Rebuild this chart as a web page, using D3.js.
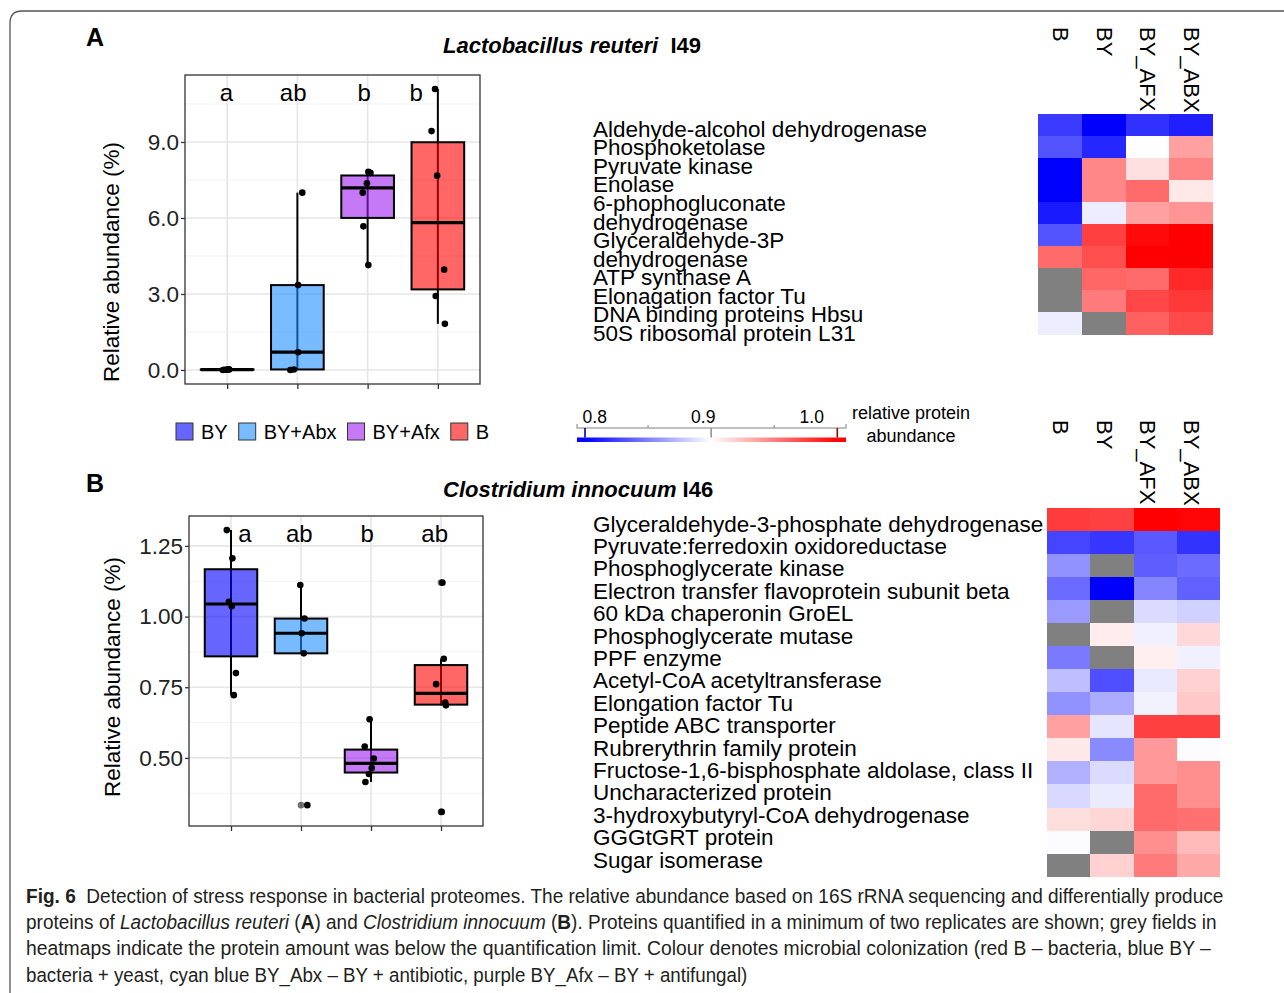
<!DOCTYPE html>
<html>
<head>
<meta charset="utf-8">
<script src="https://cdn.jsdelivr.net/npm/d3@7/dist/d3.min.js"></script>
<style>
body { margin:0; background:#fff; }
text { font-family:"Liberation Sans", Arial, sans-serif; }
</style>
</head>
<body>
<svg id="fig" width="1284" height="993"></svg>
<script>
var groups = ["BY","BY+Abx","BY+Afx","B"];
var groupFill = ["#0000ff","#1e90ff","#a020f0","#ff0000"];

/* panel A: Lactobacillus reuteri I49, relative abundance (%) */
var reuteriBY  = [0.00, 0.01, 0.02, 0.03, 0.01, 0.02];
var reuteriAbx = [0.00, 0.02, 0.70, 3.35, 7.00];
var reuteriAfx = [4.14, 5.67, 7.00, 7.37, 7.78, 7.82];
var reuteriB   = [1.82, 2.92, 3.96, 7.67, 9.43, 11.09];
var reuteriTicks = [0, 3, 6, 9];
var reuteriLetters = ["a","ab","b","b"];
// letter positions in category units (like annotate() in R)
var reuteriLetterAt = [0.99, 1.94, 2.95, 3.69];
var reuteriLetterY = 10.97;
// horizontal jitter of each dot, in category units
var reuteriJitter = [[-0.06,-0.04,0.03,0.02,-0.01,0.01],
                     [-0.10,-0.05,0.01,0.01,0.07],
                     [0.01,-0.06,-0.07,-0.01,0.04,0.01],
                     [0.10,-0.03,0.09,-0.01,-0.09,-0.04]];

/* panel B: Clostridium innocuum I46, relative abundance (%) */
var innocuumBY  = [0.722, 0.800, 1.037, 1.052, 1.206, 1.306];
var innocuumAbx = [0.333, 0.870, 0.941, 0.993, 1.112];
var innocuumAfx = [0.415, 0.443, 0.464, 0.498, 0.540, 0.637];
var innocuumB   = [0.309, 0.686, 0.696, 0.761, 0.851, 1.120];
var innocuumTicks = [0.50, 0.75, 1.00, 1.25];
var innocuumLetters = ["a","ab","b","ab"];
var innocuumLetterAt = [1.20, 1.975, 2.945, 3.91];
var innocuumLetterY = 1.295;
var innocuumJitter = [[0.04,0.07,0.01,-0.03,0.02,-0.06],
                      [0.09,0.04,0.01,0.05,-0.01],
                      [-0.08,-0.03,0.01,0.04,-0.09,-0.02],
                      [0.01,0.07,0.06,-0.07,0.04,0.02]];

/* heatmaps: relative protein abundance, null = below quantification limit */
var heatCols = ["B","BY","BY_AFX","BY_ABX"];
var proteinsA = ["Aldehyde-alcohol dehydrogenase","Phosphoketolase","Pyruvate kinase","Enolase",
  "6-phophogluconate\ndehydrogenase","Glyceraldehyde-3P\ndehydrogenase","ATP synthase A",
  "Elonagation factor Tu","DNA binding proteins Hbsu","50S ribosomal protein L31"];
var heatA_B   = [0.823,0.833,0.800,0.800,0.810,0.833,0.958,null,null,0.893];
var heatA_BY  = [0.800,0.815,0.947,0.947,0.893,0.975,0.969,0.960,0.952,null];
var heatA_AFX = [0.819,0.900,0.912,0.958,0.937,0.996,1.000,0.958,0.972,0.962];
var heatA_ABX = [0.812,0.937,0.948,0.909,0.942,1.000,1.000,0.984,0.978,0.971];

var proteinsB = ["Glyceraldehyde-3-phosphate dehydrogenase","Pyruvate:ferredoxin oxidoreductase",
  "Phosphoglycerate kinase","Electron transfer flavoprotein subunit beta","60 kDa chaperonin GroEL",
  "Phosphoglycerate mutase","PPF enzyme","Acetyl-CoA acetyltransferase","Elongation factor Tu",
  "Peptide ABC transporter","Rubrerythrin family protein","Fructose-1,6-bisphosphate aldolase, class II",
  "Uncharacterized protein","3-hydroxybutyryl-CoA dehydrogenase","GGGtGRT protein","Sugar isomerase"];
var heatB_B   = [0.977,0.827,0.857,0.842,0.860,null,0.848,0.875,0.857,0.937,0.909,0.869,0.885,0.913,0.899,null];
var heatB_BY  = [0.975,0.821,null,0.800,null,0.907,null,0.831,0.867,0.890,0.854,0.886,0.892,0.916,null,0.918];
var heatB_AFX = [1.000,0.835,0.837,0.852,0.886,0.894,0.906,0.891,0.895,0.975,0.940,0.940,0.958,0.958,0.944,0.952];
var heatB_ABX = [0.998,0.820,0.842,0.838,0.882,0.915,0.894,0.918,0.921,0.975,0.899,0.944,0.944,0.956,0.927,0.934];

var colorbarTicks = [0.8, 0.9, 1.0];
var colorbarMinor = [0.85, 0.95];

var caption = [
  [["Fig. 6","b"],["  Detection of stress response in bacterial proteomes. The relative abundance based on 16S rRNA sequencing and differentially produce",""]],
  [["proteins of ",""],["Lactobacillus reuteri","i"],[" (",""],["A","b"],[") and ",""],["Clostridium innocuum","i"],[" (",""],["B","b"],["). Proteins quantified in a minimum of two replicates are shown; grey fields in",""]],
  [["heatmaps indicate the protein amount was below the quantification limit. Colour denotes microbial colonization (red B \u2013 bacteria, blue BY \u2013",""]],
  [["bacteria + yeast, cyan blue BY_Abx \u2013 BY + antibiotic, purple BY_Afx \u2013 BY + antifungal)",""]]
];

var svg = d3.select("#fig");

var heatColor = d3.scaleLinear()
    .domain([0.8, 0.9, 1.0])
    .range(["#0000ff","#ffffff","#ff0000"])
    .clamp(true);

//frame of the figure box
svg.append("path")
    .attr("d","M10,1010 V23 Q10,11 22,11 H1300")
    .attr("fill","none")
    .attr("stroke","#555")
    .attr("stroke-width",1.3);

/* ggplot style box statistics (type 7 quantiles, 1.5 IQR whiskers) */
var boxStats = function(vals)
{
    var s = vals.slice().sort(d3.ascending);
    var q1 = d3.quantile(s,0.25), med = d3.quantile(s,0.5), q3 = d3.quantile(s,0.75);
    var lim = 1.5*(q3-q1);
    var inside = s.filter(function(v){ return v>=q1-lim && v<=q3+lim; });
    return {q1:q1, med:med, q3:q3,
            lo:d3.min(inside), hi:d3.max(inside),
            out:s.filter(function(v){ return v<q1-lim || v>q3+lim; })};
}

/* draws one boxplot panel */
var drawBoxPanel = function(p)
{
    var b = p.box;
    var all = d3.merge(p.values);
    var ext = d3.extent(all);
    var pad = (ext[1]-ext[0])*0.05;
    var y = d3.scaleLinear().domain([ext[0]-pad, ext[1]+pad]).range([b.y1, b.y0]);
    var x = d3.scaleLinear().domain([0.4, groups.length+0.6]).range([b.x0, b.x1]);
    var g = svg.append("g");

    // minor grid halfway between the major ticks
    var step = p.ticks[1]-p.ticks[0];
    var minor = p.ticks.map(function(t){ return t+step/2; })
        .concat([p.ticks[0]-step/2])
        .filter(function(t){ return t>y.domain()[0] && t<y.domain()[1]; });

    g.selectAll(".minor").data(minor).enter().append("line")
        .attr("x1",b.x0).attr("x2",b.x1)
        .attr("y1",function(d){ return y(d); }).attr("y2",function(d){ return y(d); })
        .attr("stroke","#f2f2f2").attr("stroke-width",1);
    g.selectAll(".major").data(p.ticks).enter().append("line")
        .attr("x1",b.x0).attr("x2",b.x1)
        .attr("y1",function(d){ return y(d); }).attr("y2",function(d){ return y(d); })
        .attr("stroke","#e6e6e6").attr("stroke-width",1.6);
    g.selectAll(".vgrid").data(groups).enter().append("line")
        .attr("x1",function(d,i){ return x(i+1); }).attr("x2",function(d,i){ return x(i+1); })
        .attr("y1",b.y0).attr("y2",b.y1)
        .attr("stroke","#e6e6e6").attr("stroke-width",1.6);

    var stats = p.values.map(boxStats);
    var bw = x(1.375)-x(1);

    var boxes = g.selectAll(".box").data(stats).enter().append("g");
    boxes.append("line")
        .attr("x1",function(d,i){ return x(i+1); }).attr("x2",function(d,i){ return x(i+1); })
        .attr("y1",function(d){ return y(d.hi); }).attr("y2",function(d){ return y(d.lo); })
        .attr("stroke","#000").attr("stroke-width",2);
    boxes.append("rect")
        .attr("x",function(d,i){ return x(i+1)-bw; })
        .attr("width",bw*2)
        .attr("y",function(d){ return y(d.q3); })
        .attr("height",function(d){ return y(d.q1)-y(d.q3); })
        .attr("fill",function(d,i){ return groupFill[i]; })
        .attr("fill-opacity",0.6)
        .attr("stroke","#000").attr("stroke-width",2);
    boxes.append("line")
        .attr("x1",function(d,i){ return x(i+1)-bw; }).attr("x2",function(d,i){ return x(i+1)+bw; })
        .attr("y1",function(d){ return y(d.med); }).attr("y2",function(d){ return y(d.med); })
        .attr("stroke","#000").attr("stroke-width",3.2);

    // outliers from the boxplot itself
    stats.forEach(function(s,i)
    {
        g.selectAll(null).data(s.out).enter().append("circle")
            .attr("cx",x(i+1)).attr("cy",function(d){ return y(d); })
            .attr("r",3.3).attr("fill","#000").attr("fill-opacity",0.55);
    });

    // jittered dots
    p.values.forEach(function(vals,i)
    {
        g.selectAll(null).data(vals).enter().append("circle")
            .attr("cx",function(d,j){ return x(i+1+p.jitter[i][j]); })
            .attr("cy",function(d){ return y(d); })
            .attr("r",3.3).attr("fill","#000");
    });

    g.selectAll(".letter").data(p.letters).enter().append("text")
        .attr("x",function(d,i){ return x(p.letterAt[i]); })
        .attr("y",y(p.letterY))
        .attr("dy","0.36em")
        .attr("text-anchor","middle")
        .attr("font-size",24)
        .text(function(d){ return d; });

    g.append("rect")
        .attr("x",b.x0).attr("y",b.y0)
        .attr("width",b.x1-b.x0).attr("height",b.y1-b.y0)
        .attr("fill","none").attr("stroke","#333").attr("stroke-width",1.3);

    var yAxis = d3.axisLeft(y).tickValues(p.ticks).tickFormat(d3.format(p.fmt))
        .tickSize(4).tickPadding(2);
    var ya = g.append("g").attr("transform","translate("+b.x0+",0)").call(yAxis);
    ya.select(".domain").remove();
    ya.selectAll("text").attr("font-size",22.5).attr("fill","#222")
        .attr("font-family","Liberation Sans, Arial, sans-serif");
    ya.selectAll("line").attr("stroke","#333").attr("stroke-width",1.3);

    var xAxis = d3.axisBottom(x).tickValues(d3.range(1,groups.length+1)).tickFormat("").tickSize(5);
    var xa = g.append("g").attr("transform","translate(0,"+b.y1+")").call(xAxis);
    xa.select(".domain").remove();
    xa.selectAll("line").attr("stroke","#333").attr("stroke-width",1.3);

    g.append("text")
        .attr("transform","translate("+p.ytitleX+","+p.ytitleY+") rotate(-90)")
        .attr("text-anchor","middle")
        .attr("dy","0.36em")
        .attr("font-size",22.5)
        .text("Relative abundance (%)");

    g.append("text").attr("x",86).attr("y",p.labelY)
        .attr("font-size",25).attr("font-weight","bold").text(p.label);

    var t = g.append("text").attr("x",p.titleX).attr("y",p.titleY)
        .attr("font-size",22).attr("font-weight","bold");
    t.append("tspan").attr("font-style","italic").text(p.species);
    t.append("tspan").attr("xml:space","preserve").text(p.strain);
}

drawBoxPanel({
    values:[reuteriBY, reuteriAbx, reuteriAfx, reuteriB],
    jitter:reuteriJitter, ticks:reuteriTicks, fmt:".1f",
    letters:reuteriLetters, letterAt:reuteriLetterAt, letterY:reuteriLetterY,
    box:{x0:185, y0:75, x1:480, y1:384},
    ytitleX:111, ytitleY:262, label:"A", labelY:46,
    species:"Lactobacillus reuteri", strain:"\u00a0 I49", titleX:443, titleY:53
});

drawBoxPanel({
    values:[innocuumBY, innocuumAbx, innocuumAfx, innocuumB],
    jitter:innocuumJitter, ticks:innocuumTicks, fmt:".2f",
    letters:innocuumLetters, letterAt:innocuumLetterAt, letterY:innocuumLetterY,
    box:{x0:189, y0:516, x1:483, y1:826},
    ytitleX:112, ytitleY:677, label:"B", labelY:492,
    species:"Clostridium innocuum", strain:" I46", titleX:443, titleY:497
});

/* group legend under panel A */
var legend = svg.append("g");
var lx = 176;
groups.forEach(function(name,i)
{
    legend.append("rect")
        .attr("x",lx).attr("y",423).attr("width",17).attr("height",17)
        .attr("fill",groupFill[i]).attr("fill-opacity",0.6)
        .attr("stroke","#333").attr("stroke-width",1);
    var t = legend.append("text").attr("x",lx+25).attr("y",439)
        .attr("font-size",20).text(name);
    lx = lx+25+t.node().getComputedTextLength()+11;
});

/* colorbar */
var cbScale = d3.scaleLinear().domain([0.8,1.0]).range([585,837.3]);
var cbLabel = d3.scaleLinear().domain([0.8,1.0]).range([594.7,811.7]);
var cbRange = [cbScale.invert(577), cbScale.invert(846)];

var grad = svg.append("defs").append("linearGradient").attr("id","cbgrad");
grad.selectAll("stop").data(d3.range(0,1.0001,0.05)).enter().append("stop")
    .attr("offset",function(d){ return d; })
    .attr("stop-color",function(d){ return heatColor(cbRange[0]+d*(cbRange[1]-cbRange[0])); });

var cb = svg.append("g");
cb.append("rect").attr("x",cbScale(cbRange[0])).attr("y",437.5)
    .attr("width",cbScale(cbRange[1])-cbScale(cbRange[0])).attr("height",4.5)
    .attr("fill","url(#cbgrad)");
cb.append("path")
    .attr("d","M"+cbScale(cbRange[0])+",424 V428 H"+cbScale(cbRange[1])+" V424")
    .attr("fill","none").attr("stroke","#aaa").attr("stroke-width",1.5);
cb.selectAll(".mn").data(colorbarMinor).enter().append("line")
    .attr("x1",function(d){ return cbScale(d); }).attr("x2",function(d){ return cbScale(d); })
    .attr("y1",425).attr("y2",428).attr("stroke","#999").attr("stroke-width",1.2);
cb.selectAll(".mj").data(colorbarTicks).enter().append("line")
    .attr("x1",function(d){ return cbScale(d); }).attr("x2",function(d){ return cbScale(d); })
    .attr("y1",428).attr("y2",437.5)
    .attr("stroke",function(d){ return d3.rgb(heatColor(d)).darker(1.5); })
    .attr("stroke-width",1.6);
cb.selectAll(".lb").data(colorbarTicks).enter().append("text")
    .attr("x",function(d){ return cbLabel(d); }).attr("y",423)
    .attr("text-anchor","middle").attr("font-size",17.5)
    .text(d3.format(".1f"));
cb.append("text").attr("x",911).attr("y",419).attr("text-anchor","middle")
    .attr("font-size",18).text("relative protein");
cb.append("text").attr("x",911).attr("y",442).attr("text-anchor","middle")
    .attr("font-size",18).text("abundance");

/* heatmaps */
var labelX = d3.scaleBand().domain(heatCols).range([1038.3,1212.7]);

var drawHeatmap = function(h)
{
    var n = h.cols[0].length;
    var x = d3.scaleBand().domain(heatCols).range([h.box.x0,h.box.x1]);
    var y = d3.scaleBand().domain(d3.range(n)).range([h.box.y0,h.box.y1]);
    var cells = [];
    h.cols.forEach(function(col,c)
    {
        col.forEach(function(v,r){ cells.push({c:heatCols[c], r:r, v:v}); });
    });
    var g = svg.append("g");
    g.selectAll("rect").data(cells).enter().append("rect")
        .attr("x",function(d){ return x(d.c); })
        .attr("y",function(d){ return y(d.r); })
        .attr("width",x.bandwidth()+0.3)
        .attr("height",y.bandwidth()+0.3)
        .attr("shape-rendering","crispEdges")
        .attr("fill",function(d){ return d.v===null ? "#808080" : heatColor(d.v); });

    g.selectAll(".col").data(heatCols).enter().append("text")
        .attr("transform",function(d){ return "translate("+(labelX(d)+labelX.bandwidth()/2+1)+","+h.labelTop+") rotate(90)"; })
        .attr("dy","0.36em")
        .attr("font-size",22)
        .text(function(d){ return d; });

    var lines = d3.merge(h.names.map(function(s){ return s.split("\n"); }));
    var ly = d3.scaleLinear().domain([0,lines.length-1]).range(h.lineY);
    g.selectAll(".row").data(lines).enter().append("text")
        .attr("x",593)
        .attr("y",function(d,i){ return ly(i); })
        .attr("font-size",22.5)
        .text(function(d){ return d; });
}

drawHeatmap({
    cols:[heatA_B, heatA_BY, heatA_AFX, heatA_ABX], names:proteinsA,
    box:{x0:1038.3, x1:1212.7, y0:114.3, y1:334.3}, labelTop:27, lineY:[136.7,341]
});
drawHeatmap({
    cols:[heatB_B, heatB_BY, heatB_AFX, heatB_ABX], names:proteinsB,
    box:{x0:1047.3, x1:1220, y0:507.7, y1:876.7}, labelTop:420, lineY:[531.5,867.7]
});

/* caption, each line squeezed to the width of the printed one */
var captionWidth = [1198, 1191, 1186, 722];
caption.forEach(function(line,i)
{
    var t = svg.append("text")
        .attr("x",0).attr("y",0)
        .attr("font-size",19.5)
        .attr("fill","#231f20")
        .attr("xml:space","preserve");
    line.forEach(function(seg)
    {
        t.append("tspan")
            .attr("font-weight",seg[1]==="b" ? "bold" : null)
            .attr("font-style",seg[1]==="i" ? "italic" : null)
            .text(seg[0]);
    });
    var w = t.node().getComputedTextLength();
    t.attr("transform","translate(26,"+(903+i*26.2)+") scale("+(captionWidth[i]/w)+",1)");
});
</script>
</body>
</html>
